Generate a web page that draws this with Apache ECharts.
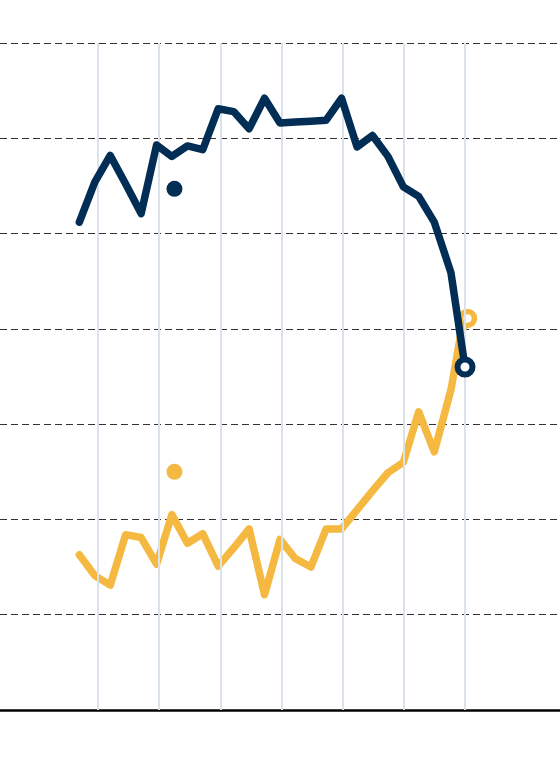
<!DOCTYPE html>
<html>
<head>
<meta charset="utf-8">
<script src="https://cdn.jsdelivr.net/npm/echarts@6/dist/echarts.min.js"></script>
<style>
html,body{margin:0;padding:0;background:#fff;}
#chart{width:560px;height:760px;}
</style>
</head>
<body>
<div id="chart"></div>
<script>
// x positions (fractional years)
const navyYears = [1998.78, 1999.79, 2000.80, 2001.81, 2002.82, 2003.83, 2004.83, 2005.85, 2006.85, 2007.86, 2008.87, 2009.88, 2010.89, 2011.90, 2012.90, 2013.92, 2014.92, 2015.93, 2016.94, 2017.95, 2018.96, 2019.97, 2020.97, 2021.99, 2023.08, 2024.00];
const navyValues = [5.12, 5.54, 5.82, 5.52, 5.21, 5.93, 5.81, 5.92, 5.88, 6.31, 6.28, 6.10, 6.42, 6.16, 6.17, 6.18, 6.19, 6.42, 5.91, 6.03, 5.81, 5.49, 5.39, 5.12, 4.59, 3.60];

const yellowYears = [1998.78, 1999.79, 2000.80, 2001.81, 2002.82, 2003.83, 2004.83, 2005.85, 2006.85, 2007.86, 2008.87, 2009.88, 2010.89, 2011.90, 2012.90, 2013.92, 2014.92, 2015.93, 2016.94, 2017.95, 2018.96, 2019.97, 2020.97, 2021.99, 2023.08, 2023.74, 2024.16];
const yellowValues = [1.63, 1.41, 1.31, 1.84, 1.81, 1.53, 2.05, 1.75, 1.85, 1.51, 1.70, 1.90, 1.21, 1.79, 1.59, 1.50, 1.90, 1.90, 2.10, 2.30, 2.49, 2.60, 3.13, 2.71, 3.36, 3.96, 4.11];

// isolated single observations
const specialYear = 2005.0;
const navySpecial = 5.47;
const yellowSpecial = 2.50;

// vertical gridline positions and y ticks
const yearTicks = [2000, 2004, 2008, 2012, 2016, 2020, 2024];
const yMin = 0, yMax = 7, yStep = 1;
const xMin = 1993.591, xMax = 2030.212;

const NAVY = '#022d54';
const YELLOW = '#f5b942';

const pairs = (xs, ys) => xs.map((x, i) => [x, ys[i]]);

const chart = echarts.init(document.getElementById('chart'), null, {renderer: 'canvas'});
chart.setOption({
  animation: false,
  backgroundColor: '#ffffff',
  grid: {left: 0, right: 0, top: 43, bottom: 50, containLabel: false},
  xAxis: {
    type: 'value', min: xMin, max: xMax,
    axisLine: {show: true, onZero: false, lineStyle: {color: '#000', width: 2.5}},
    axisTick: {show: false}, axisLabel: {show: false}, splitLine: {show: false}
  },
  yAxis: {
    type: 'value', min: yMin, max: yMax, interval: yStep,
    axisLine: {show: false}, axisTick: {show: false}, axisLabel: {show: false},
    splitLine: {show: true, lineStyle: {color: '#333', width: 1.2, type: [7, 4]}}
  },
  series: [
    {
      type: 'line', data: [], z: 1, silent: true,
      markLine: {
        silent: true, symbol: ['none', 'none'], label: {show: false},
        lineStyle: {color: '#dae2eb', width: 2, type: 'solid'},
        data: yearTicks.map(t => ({xAxis: t}))
      }
    },
    {
      type: 'line', data: pairs(yellowYears, yellowValues), z: 3,
      symbol: 'none', lineStyle: {color: YELLOW, width: 7.5, cap: 'round', join: 'round'}
    },
    {
      type: 'scatter', data: [[yellowYears[yellowYears.length - 1], yellowValues[yellowValues.length - 1]]], z: 4,
      symbol: 'circle', symbolSize: 14,
      itemStyle: {color: '#fff', borderColor: YELLOW, borderWidth: 5.5, opacity: 1}
    },
    {
      type: 'line', data: pairs(navyYears, navyValues), z: 5,
      symbol: 'none', lineStyle: {color: NAVY, width: 7.5, cap: 'round', join: 'round'}
    },
    {
      type: 'scatter', data: [[navyYears[navyYears.length - 1], navyValues[navyValues.length - 1]]], z: 6,
      symbol: 'circle', symbolSize: 15,
      itemStyle: {color: '#fff', borderColor: NAVY, borderWidth: 6, opacity: 1}
    },
    {
      type: 'scatter', data: [[specialYear, navySpecial]], z: 6,
      symbol: 'circle', symbolSize: 16, itemStyle: {color: NAVY, opacity: 1}
    },
    {
      type: 'scatter', data: [[specialYear, yellowSpecial]], z: 4,
      symbol: 'circle', symbolSize: 16, itemStyle: {color: YELLOW, opacity: 1}
    }
  ]
});
</script>
</body>
</html>
